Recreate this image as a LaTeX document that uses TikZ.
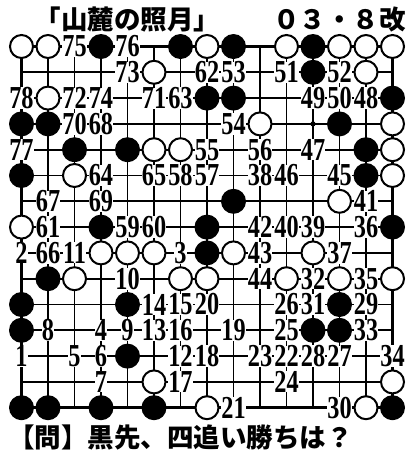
\documentclass[tikz,border=0pt]{standalone}
\usepackage{fontspec}
\setmainfont{Liberation Serif}
\newfontfamily\jp{Noto Sans CJK JP}
\tikzset{
  gridline/.style={line width=1.8pt},
  borderline/.style={line width=2.6pt},
  bstone/.style={circle, fill=black, minimum size=25pt, inner sep=0pt},
  wstone/.style={circle, draw=black, fill=white, line width=2pt, minimum size=23pt, inner sep=0pt},
  num/.style={fill=white, inner sep=0pt, font=\fontsize{32}{32}\selectfont\bfseries, xscale=0.76},
  jptext/.style={inner sep=0pt, font=\jp\bfseries\fontsize{26.5}{26.5}\selectfont},
}
\begin{document}
\begin{tikzpicture}
\useasboundingbox[fill=white] (0pt,0pt) rectangle (409pt,-451pt);
\begin{scope}[shift={(21.5pt,-46.5pt)}, x=26.5pt, y=-25.8pt]
  % grid
  \foreach \k in {1,...,13} {
    \draw[gridline] (0,\k) -- (14,\k);
    \draw[gridline] (\k,0) -- (\k,14);
  }
  \draw[borderline] (0,0) rectangle (14,14);
  \fill (11,3) circle (2.6pt);
  % black stones
  \foreach \c/\r [count=\i] in {4/1,7/1,9/1,12/1,12/2,8/3,9/3,15/3,1/4,2/4,13/4,3/5,5/5,14/5,1/6,14/6,9/7,4/8,8/8,15/8,8/9,2/10,1/11,5/11,13/11,1/12,12/12,13/12,5/13,1/15,2/15,4/15,6/15,15/15}
    \node[bstone] (b\i) at (\c-1,\r-1) {};
  % white stones
  \foreach \c/\r [count=\i] in {1/1,2/1,8/1,11/1,13/1,14/1,15/1,6/2,14/2,2/3,10/4,15/4,6/5,7/5,15/5,3/6,15/6,13/7,1/8,4/9,5/9,6/9,9/9,12/9,3/10,7/10,8/10,11/10,13/10,15/10,6/14,15/14,8/15,14/15}
    \node[wstone] (w\i) at (\c-1,\r-1) {};
  % move numbers
  \foreach \c/\r/\n in {3/1/75,5/1/76,
    5/2/73,8/2/62,9/2/53,11/2/51,13/2/52,
    1/3/78,3/3/72,4/3/74,6/3/71,7/3/63,12/3/49,13/3/50,14/3/48,
    3/4/70,4/4/68,9/4/54,
    1/5/77,8/5/55,10/5/56,12/5/47,
    4/6/64,6/6/65,7/6/58,8/6/57,10/6/38,11/6/46,13/6/45,
    2/7/67,4/7/69,14/7/41,
    2/8/61,5/8/59,6/8/60,10/8/42,11/8/40,12/8/39,14/8/36,
    1/9/2,2/9/66,3/9/11,7/9/3,10/9/43,13/9/37,
    5/10/10,10/10/44,12/10/32,14/10/35,
    6/11/14,7/11/15,8/11/20,11/11/26,12/11/31,14/11/29,
    2/12/8,4/12/4,5/12/9,6/12/13,7/12/16,9/12/19,11/12/25,14/12/33,
    1/13/1,3/13/5,4/13/6,7/13/12,8/13/18,10/13/23,11/13/22,12/13/28,13/13/27,15/13/34,
    4/14/7,7/14/17,11/14/24,
    9/15/21,13/15/30}
    \node[num] (m\n) at (\c-1,\r-1) {\n};
  % texts
  \node[jptext] (title) at (4,-1.03) {「山麓の照月」};
  \node[jptext] (date) at (12,-1.03) {０３・８改};
  \node[jptext] (question) at (6,15.14) {【問】黒先、四追い勝ちは？};
\end{scope}
\end{tikzpicture}
\end{document}
